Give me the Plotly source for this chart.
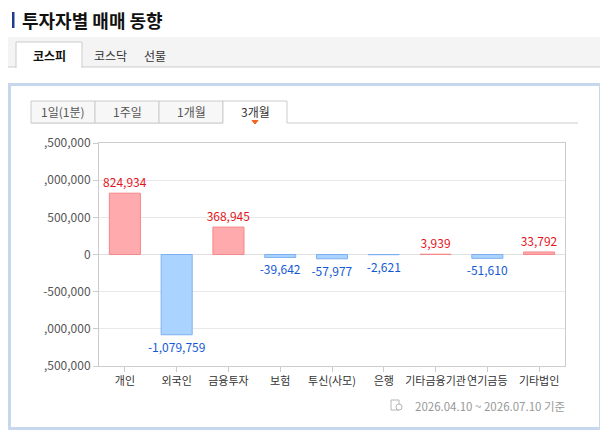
import plotly.graph_objects as go

# 투자자별 순매수 (3개월)
investors = ['개인', '외국인', '금융투자', '보험', '투신(사모)', '은행', '기타금융기관', '연기금등', '기타법인']
net_values = [824934, -1079759, 368945, -39642, -57977, -2621, 3939, -51610, 33792]

y_tick_vals = [1500000, 1000000, 500000, 0, -500000, -1000000, -1500000]
y_tick_text = [',500,000', ',000,000', '500,000', '0', '-500,000', ',000,000', ',500,000']

period_tabs = ['1일(1분)', '1주일', '1개월', '3개월']
market_tabs = ['코스피', '코스닥', '선물']
footnote = '2026.04.10 ~ 2026.07.10 기준'

FONT = 'Noto Sans CJK KR'
OFF = 8                          # 페이지 body 기본 여백
W, H = 608 - OFF, 437 - OFF
L, R, T, B = 99, 565, 143, 366   # 플롯 영역 (화면 픽셀)


def px(x):
    return (x - L) / (R - L)


def py(y):
    return (B - y) / (B - T)


def rect(x0, y0, x1, y1, fill, line=None, width=1):
    return dict(type='rect', xref='paper', yref='paper',
                x0=px(x0), x1=px(x1), y0=py(y0), y1=py(y1),
                fillcolor=fill, line=dict(color=line or fill, width=width if line else 0),
                layer='below')


def path(points, color, fill=None, width=1):
    d = 'M' + ' L'.join(f'{px(x):.5f},{py(y):.5f}' for x, y in points)
    if fill:
        d += ' Z'
    return dict(type='path', xref='paper', yref='paper', path=d,
                line=dict(color=color, width=width), fillcolor=fill or 'rgba(0,0,0,0)',
                layer='below')


def label(x, y, text, size=12, color='#333', anchor='center', bold=False):
    if bold:
        text = f'<b>{text}</b>'
    return dict(xref='paper', yref='paper', x=px(x), y=py(y), text=text, showarrow=False,
                xanchor=anchor, yanchor='middle', font=dict(family=FONT, size=size, color=color))


pos_fill, pos_line, pos_text = '#ffaaac', '#f3878a', '#e3141c'
neg_fill, neg_line, neg_text = '#aad3ff', '#7db0f2', '#1259d4'

fig = go.Figure()
fig.add_trace(go.Bar(
    x=investors, y=net_values,
    marker=dict(color=[pos_fill if v >= 0 else neg_fill for v in net_values],
                line=dict(color=[pos_line if v >= 0 else neg_line for v in net_values], width=1)),
    text=[f'{v:,}' for v in net_values],
    textposition='outside',
    constraintext='none',
    cliponaxis=False,
    textfont=dict(family=FONT, size=12,
                  color=[pos_text if v >= 0 else neg_text for v in net_values]),
    width=0.6,
    hoverinfo='skip',
))

shapes = []
annotations = []

# 제목
shapes.append(rect(12, 12, 14.5, 28, '#1c3d8e'))
annotations.append(label(20, 20, '투자자별 매매 동향', size=18, color='#111', anchor='left', bold=True))

# 시장 탭
shapes.append(rect(8, 37, 608, 67, '#f4f4f4'))
shapes.append(path([(8, 67), (608, 67)], '#cccccc'))
shapes.append(rect(16, 42, 82, 68, '#ffffff'))
shapes.append(path([(16, 68), (16, 42), (82, 42), (82, 68)], '#cccccc'))
annotations.append(label(49, 55, market_tabs[0], size=12, color='#111', bold=True))
annotations.append(label(110, 55, market_tabs[1], size=12, color='#333'))
annotations.append(label(155, 55, market_tabs[2], size=12, color='#333'))

# 차트 박스
shapes.append(rect(9.5, 84.5, 600.5, 428.5, '#ffffff', '#c7d8ee', 3))

# 기간 탭
tab_x = [31, 95, 159, 223, 287]
shapes.append(path([(31, 123), (578, 123)], '#cccccc'))
for i, name in enumerate(period_tabs):
    x0, x1 = tab_x[i], tab_x[i + 1]
    if i == len(period_tabs) - 1:
        shapes.append(rect(x0, 101, x1, 124, '#ffffff'))
        shapes.append(path([(x0, 123), (x0, 101), (x1, 101), (x1, 123)], '#cccccc'))
        annotations.append(label((x0 + x1) / 2, 111.5, name, size=12, color='#333'))
    else:
        shapes.append(rect(x0, 101, x1, 123, '#f7f7f7', '#cccccc'))
        annotations.append(label((x0 + x1) / 2, 111.5, name, size=12, color='#555'))
shapes.append(path([(252, 120.5), (258, 120.5), (255, 124)], '#f26522', fill='#f26522'))

# 기준일
shapes.append(rect(391, 400, 399, 410, '#ffffff', '#b5b5b5'))
shapes.append(dict(type='circle', xref='paper', yref='paper',
                   x0=px(396), x1=px(402), y0=py(404), y1=py(410),
                   fillcolor='#ffffff', line=dict(color='#b5b5b5', width=1), layer='below'))
annotations.append(label(567, 406, footnote, size=11.5, color='#999', anchor='right'))

fig.update_layout(
    width=W, height=H,
    margin=dict(l=L - OFF, r=608 - R, t=T - OFF, b=437 - B),
    paper_bgcolor='#ffffff', plot_bgcolor='#ffffff',
    showlegend=False,
    shapes=shapes,
    annotations=annotations,
    bargap=0.4,
)
fig.update_xaxes(
    showline=True, linecolor='#cccccc', mirror=True,
    ticks='outside', ticklen=5, tickcolor='#cccccc', tickangle=0,
    tickfont=dict(family=FONT, size=11, color='#333'),
    showgrid=False, fixedrange=True,
)
fig.update_yaxes(
    range=[-1500000, 1500000],
    tickvals=y_tick_vals, ticktext=y_tick_text,
    showline=True, linecolor='#cccccc', mirror=True,
    ticks='outside', ticklen=5, tickcolor='#cccccc',
    tickfont=dict(family=FONT, size=12, color='#555'),
    gridcolor='#e8e8e8', zeroline=True, zerolinecolor='#e0e0e0', zerolinewidth=1,
    fixedrange=True,
)

fig.write_html('out.html', config={'displayModeBar': False})
